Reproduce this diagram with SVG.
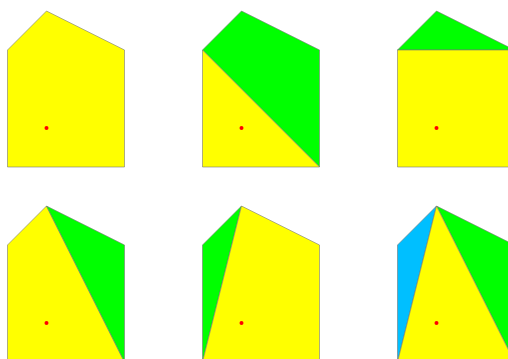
<svg xmlns="http://www.w3.org/2000/svg" width="508" height="359" viewBox="0 0 508 359">
<style>
polygon{stroke:#777;stroke-width:0.6;stroke-linejoin:round}
.y{fill:#ffff00}.g{fill:#00ff00}.b{fill:#00bfff}
.dot{fill:#ff0000}
</style>
<rect width="508" height="359" fill="#ffffff"/>
<g id="p1">
<polygon class="y" points="46.5,11 124.5,50 124.5,167 7.5,167 7.5,50"/>
<circle class="dot" cx="46.5" cy="128" r="2"/>
</g>
<g id="p2">
<polygon class="g" points="202.5,50 241.5,11 319.5,50 319.5,167"/>
<polygon class="y" points="202.5,50 319.5,167 202.5,167"/>
<circle class="dot" cx="241.5" cy="128" r="2"/>
</g>
<g id="p3">
<polygon class="g" points="397.5,50 436.5,11 514.5,50"/>
<polygon class="y" points="397.5,50 514.5,50 514.5,167 397.5,167"/>
<circle class="dot" cx="436.5" cy="128" r="2"/>
</g>
<g id="p4">
<polygon class="y" points="46.5,206 124.5,362 7.5,362 7.5,245"/>
<polygon class="g" points="46.5,206 124.5,245 124.5,362"/>
<circle class="dot" cx="46.5" cy="323" r="2"/>
</g>
<g id="p5">
<polygon class="g" points="241.5,206 202.5,362 202.5,245"/>
<polygon class="y" points="241.5,206 319.5,245 319.5,362 202.5,362"/>
<circle class="dot" cx="241.5" cy="323" r="2"/>
</g>
<g id="p6">
<polygon class="b" points="436.5,206 397.5,362 397.5,245"/>
<polygon class="g" points="436.5,206 514.5,245 514.5,362"/>
<polygon class="y" points="436.5,206 514.5,362 397.5,362"/>
<circle class="dot" cx="436.5" cy="323" r="2"/>
</g>
<g id="connectors"/>
</svg>
